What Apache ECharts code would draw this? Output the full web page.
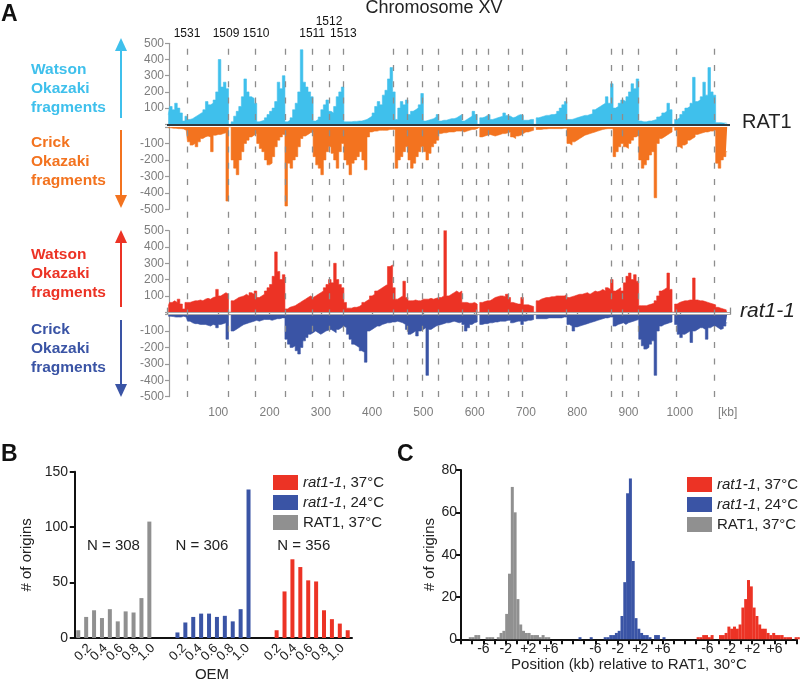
<!DOCTYPE html>
<html><head><meta charset="utf-8">
<script src="https://cdn.jsdelivr.net/npm/echarts@6/dist/echarts.min.js"></script>
<style>html,body{margin:0;padding:0;background:#fff}#c{width:800px;height:683px}</style>
</head><body><div id="c"></div>
<script>
// ---------- Panel A data: Okazaki fragment counts per 5 kb bin along Chromosome XV ----------
const BIN_KB = 5;
const CHROM_MAX_KB = 1098;
const watsonRAT1 = [
  60,110,90,130,100,70,20,50,30,35,45,55,65,75,90,140,120,130,150,200,
  400,230,260,220,0,15,50,80,110,170,280,200,170,160,130,15,20,25,40,60,
  80,100,140,260,220,300,15,25,40,90,130,200,460,260,230,200,170,20,30,45,
  90,120,150,80,70,110,170,200,230,15,15,15,18,18,20,20,25,30,40,50,
  70,110,140,120,180,210,280,350,200,30,100,140,120,150,60,80,90,100,120,190,
  20,25,30,35,45,60,20,25,25,30,35,35,40,50,60,20,30,40,50,80,
  60,0,40,45,55,60,30,35,40,45,50,70,55,50,40,45,55,60,55,25,
  25,30,30,0,40,45,50,55,55,60,60,65,80,100,120,140,30,30,35,40,
  45,50,55,55,60,65,90,100,110,120,130,170,130,250,100,110,130,150,140,170,
  200,250,220,280,20,15,15,20,20,25,30,45,55,70,80,130,90,0,30,40,
  60,80,100,110,130,290,140,150,170,260,180,350,200,180,10,10,8,8,5
];
const crickRAT1 = [
  -5,-5,-8,-8,-10,-10,-12,-20,-90,-110,-100,-120,-90,-70,-60,-55,-60,-150,-50,-45,
  -45,-40,-35,-450,0,-200,-250,-290,-200,-150,-100,-80,-60,-50,-40,-100,-130,-150,-200,-230,
  -220,-180,-120,-80,-60,-45,-480,-220,-250,-200,-180,-120,-70,-55,-45,-35,-30,-180,-230,-250,
  -290,-200,-150,-120,-160,-200,-250,-150,-100,-200,-230,-290,-220,-200,-180,-150,-200,-260,-60,-30,
  -25,-25,-20,-20,-20,-20,-15,-15,-15,-250,-200,-180,-150,-120,-200,-250,-220,-180,-150,-120,
  -150,-200,-160,-120,-100,-80,-40,-35,-35,-30,-30,-30,-25,-25,-25,-30,-25,-20,-15,-15,
  -10,0,-60,-55,-50,-45,-50,-55,-50,-45,-40,-40,-35,-30,-60,-70,-55,-50,-40,-30,
  -30,-25,-20,0,-15,-15,-12,-12,-10,-10,-10,-10,-10,-10,-8,-8,-100,-110,-90,-80,
  -70,-60,-50,-45,-40,-35,-30,-25,-20,-15,-12,-10,-10,-10,-180,-150,-120,-100,-120,-130,
  -100,-80,-60,-50,-200,-250,-230,-200,-170,-150,-430,-100,-70,-60,-50,-40,-30,0,-20,-120,
  -130,-110,-100,-80,-70,-60,-45,-40,-35,-30,-30,-25,-25,-20,-220,-250,-200,-180,-150
];
const watsonRat11 = [
  40,60,70,60,80,50,20,60,60,65,70,70,75,70,80,85,80,90,95,140,
  100,110,120,110,0,70,80,90,95,100,110,100,120,110,130,90,100,110,130,150,
  170,220,370,250,200,230,20,30,35,40,50,60,70,80,90,100,90,100,110,120,
  130,150,170,200,180,300,200,170,150,60,25,25,30,30,35,45,60,70,80,100,
  110,130,140,150,160,170,280,290,150,80,90,100,190,90,70,70,75,70,70,80,
  80,80,85,80,85,90,90,100,520,100,110,120,130,120,130,60,60,55,55,60,
  50,0,60,65,70,70,80,90,95,100,100,95,110,90,60,55,50,50,90,45,
  45,40,35,0,70,80,85,90,90,95,95,100,100,100,100,110,90,95,100,105,
  110,110,115,120,110,120,130,125,130,140,130,150,140,200,130,140,150,130,180,220,
  240,200,230,190,40,40,40,45,50,55,70,100,130,140,150,240,140,0,50,60,
  65,70,70,75,75,210,75,70,70,65,60,55,50,45,30,25,20,15,10
];
const crickRat11 = [
  -10,-10,-12,-15,-15,-15,-10,-15,-40,-50,-55,-55,-60,-60,-60,-65,-70,-60,-65,-80,
  -60,-55,-50,-150,0,-100,-90,-80,-70,-60,-55,-50,-45,-40,-35,-40,-35,-30,-30,-30,
  -35,-30,-25,-25,-20,-20,-150,-180,-200,-190,-220,-240,-200,-160,-140,-120,-110,-100,-110,-120,
  -110,-100,-95,-90,-100,-110,-90,-80,-70,-80,-120,-150,-180,-190,-200,-220,-230,-290,-100,-90,
  -80,-70,-70,-60,-55,-50,-50,-45,-45,-40,-45,-50,-60,-90,-120,-110,-100,-130,-100,-90,
  -80,-370,-90,-80,-70,-65,-60,-55,-50,-50,-45,-40,-45,-50,-45,-60,-100,-80,-60,-50,
  -45,0,-60,-55,-55,-50,-50,-45,-45,-40,-40,-40,-35,-35,-50,-45,-40,-40,-60,-40,
  -35,-35,-30,0,-25,-25,-25,-25,-20,-20,-20,-20,-20,-20,-15,-15,-60,-70,-100,-75,
  -70,-65,-60,-55,-50,-45,-40,-35,-30,-25,-20,-20,-15,-15,-70,-60,-55,-50,-60,-50,
  -45,-40,-35,-30,-150,-190,-210,-200,-180,-160,-370,-100,-70,-60,-55,-50,-45,0,-60,-120,
  -140,-120,-110,-100,-170,-100,-90,-80,-80,-90,-150,-80,-70,-70,-80,-90,-85,-70,-50
];
const originKb = [39,119,172,230,283,316,344,442,469,498,529,576,604,627,666,692,779,867,887,920,994,1068];
const originNames = {39:'1531',119:'1509',172:'1510',283:'1511',316:'1512',344:'1513'};
const kbTicks = [100,200,300,400,500,600,700,800,900,1000];

// ---------- Panel B data: OEM histograms ----------
const oemTickLabels = ['0.2','0.4','0.6','0.8','1.0'];
const oemRAT1_37 = [7,19,25,18,26,15,24,23,36,105];
const oemRat11_24 = [5,14,19,22,22,19,20,15,26,134];
const oemRat11_37 = [7,42,71,64,52,51,25,17,13,7];
const oemN = ['N = 308','N = 306','N = 356'];
const oemNPos = [[4.9, 83.5], [16.1, 83.5], [29.0, 83.5]];

// ---------- Panel C data: origin position shift, 0.5 kb bins from -10 to +10 kb ----------
const shiftBinKb = 0.5;
const shiftTickLabels = {'-6':'-6','-2':'-2','2':'+2','6':'+6'};
const shiftRAT1_37 = [0,0,0,0,1,1,2,2,0,0,1,1,1,0,1,3,4,12,31,72,60,19,7,4,3,3,2,2,2,1,2,1,1,0,0,0,0,0,0,0];
const shiftRat11_24 = [0,0,1,0,0,0,1,0,0,0,0,1,1,2,2,3,4,11,27,69,76,37,10,5,3,2,2,1,0,2,2,0,1,0,0,0,0,0,0,0];
const shiftRat11_37 = [0,0,0,1,1,2,2,1,2,0,0,2,2,3,6,5,6,5,7,15,19,28,25,15,11,7,5,5,3,2,3,2,2,2,1,1,1,0,1,1];

const seriesNames = ['rat1-1, 37°C','rat1-1, 24°C','RAT1, 37°C'];
const colRed = '#ec3325', colBlue = '#3a54a5', colGray = '#909090';
const colSky = '#3fc0ec', colOrange = '#f3731f';
const FONT = '"Liberation Sans", Arial, sans-serif';

const binned = arr => arr.map((v, i) => [i * BIN_KB + BIN_KB / 2, v]);

const chart = echarts.init(document.getElementById('c'), null, {renderer: 'canvas'});

const aLeft = 167, aWidth = 563;
const grids = [
  {left: aLeft, width: aWidth, top: 43.3, height: 81},     // 0 RAT1 Watson
  {left: aLeft, width: aWidth, top: 127, height: 82.3},    // 1 RAT1 Crick
  {left: aLeft, width: aWidth, top: 230.7, height: 81.5},  // 2 rat1-1 Watson
  {left: aLeft, width: aWidth, top: 314.6, height: 82.1},  // 3 rat1-1 Crick
  {left: aLeft, width: aWidth, top: 40, height: 357},      // 4 origin lines overlay
  {left: 72, width: 280, top: 471.7, height: 170},         // 5 panel B
  {left: 461, width: 336, top: 470, height: 169.3}         // 6 panel C
];

const hiddenKbAxis = gi => ({type: 'value', gridIndex: gi, min: 0, max: CHROM_MAX_KB, show: false});
const aYAxis = (gi, min, max) => ({
  type: 'value', gridIndex: gi, min: min, max: max, interval: 100, offset: -2,
  axisLine: {show: true, lineStyle: {color: '#9a9a9a', width: 1.2}},
  axisTick: {show: true, length: 4, lineStyle: {color: '#9a9a9a', width: 1.2}},
  axisLabel: {color: '#7d7d7d', fontSize: 12, fontFamily: FONT, margin: 5,
    formatter: v => v === 0 ? '' : String(v)},
  splitLine: {show: false}
});

const xAxes = [
  hiddenKbAxis(0), hiddenKbAxis(1), hiddenKbAxis(2),
  {type: 'value', gridIndex: 3, min: 0, max: CHROM_MAX_KB, interval: 100,
   axisLine: {show: true, lineStyle: {color: '#9a9a9a', width: 1.2}},
   axisTick: {show: true, inside: true, length: 7, lineStyle: {color: '#8a8a8a', width: 1.3}},
   axisLabel: {color: '#7d7d7d', fontSize: 12, fontFamily: FONT, margin: 10,
     formatter: v => kbTicks.indexOf(v) >= 0 ? String(v) : ''},
   splitLine: {show: false}},
  hiddenKbAxis(4),
  {type: 'value', gridIndex: 5, min: -0.35, max: 35.1,
   axisLine: {show: true, onZero: false, lineStyle: {color: '#111', width: 2}},
   axisTick: {show: false}, axisLabel: {show: false},
   splitLine: {show: false},
   name: 'OEM', nameLocation: 'middle', nameGap: 29,
   nameTextStyle: {color: '#222', fontSize: 15, fontFamily: FONT}},
  {type: 'value', gridIndex: 6, min: 0, max: 60, interval: 2,
   axisLine: {show: true, onZero: false, lineStyle: {color: '#111', width: 2}},
   axisTick: {show: true, length: 5, lineStyle: {color: '#111', width: 2}},
   axisLabel: {color: '#222', fontSize: 14, fontFamily: FONT, margin: 3,
     showMinLabel: true, showMaxLabel: true, hideOverlap: false,
     formatter: v => { const r = Math.round(v % 20 - 10); return shiftTickLabels[String(r)] || ''; }},
   splitLine: {show: false},
   name: 'Position (kb) relative to RAT1, 30°C', nameLocation: 'middle', nameGap: 16,
   nameTextStyle: {color: '#222', fontSize: 15, fontFamily: FONT}}
];

const yAxes = [
  aYAxis(0, 0, 500), aYAxis(1, -500, 0), aYAxis(2, 0, 500), aYAxis(3, -500, 0),
  {type: 'value', gridIndex: 4, min: 0, max: 1, show: false},
  {type: 'value', gridIndex: 5, min: 0, max: 150, interval: 50,
   axisLine: {show: true, lineStyle: {color: '#111', width: 2}},
   axisTick: {show: true, length: 5, lineStyle: {color: '#111', width: 2}},
   axisLabel: {color: '#222', fontSize: 14, fontFamily: FONT, margin: 4},
   splitLine: {show: false},
   name: '# of origins', nameLocation: 'middle', nameRotate: 90, nameGap: 38,
   nameTextStyle: {color: '#222', fontSize: 15, fontFamily: FONT}},
  {type: 'value', gridIndex: 6, min: 0, max: 80, interval: 20,
   axisLine: {show: true, lineStyle: {color: '#111', width: 2}},
   axisTick: {show: true, length: 5, lineStyle: {color: '#111', width: 2}},
   axisLabel: {color: '#222', fontSize: 14, fontFamily: FONT, margin: 4},
   splitLine: {show: false},
   name: '# of origins', nameLocation: 'middle', nameRotate: 90, nameGap: 23,
   nameTextStyle: {color: '#222', fontSize: 15, fontFamily: FONT}}
];

// dense coverage tracks drawn as stepped (histogram-like) filled profiles
const aTrack = (idx, data, color, base) => {
  const s = {type: 'line', step: 'middle', xAxisIndex: idx, yAxisIndex: idx, data: binned(data),
    symbol: 'none', showSymbol: false, silent: true, sampling: null,
    lineStyle: {color: color, width: 0.6}, areaStyle: {color: color, opacity: 1}};
  if (base) s.markLine = {silent: true, symbol: 'none', label: {show: false},
    lineStyle: {color: base.color, width: base.width, type: 'solid'}, data: [{yAxis: 0}]};
  return s;
};

const labelOffset = {119: [-2, 0], 172: [1, 0]};
const originLineData = originKb.map(kb => {
  const nm = originNames[kb];
  return {xAxis: kb, label: nm ? {show: true, position: 'end', formatter: nm, color: '#111',
    fontSize: 12, fontFamily: FONT, distance: kb === 316 ? 12 : 0, offset: labelOffset[kb] || [0, 0]} : {show: false}};
});

const bGroupStart = [1, 13, 25];
const bPairs = (arr, g) => arr.map((v, i) => [bGroupStart[g] + i, v]);
const cPairs = (arr, g) => arr.map((v, i) => [20 * g + i * shiftBinKb + shiftBinKb / 2, v]);

const series = [
  aTrack(0, watsonRAT1, colSky, {color: '#2f3b42', width: 2}),
  aTrack(1, crickRAT1, colOrange),
  aTrack(2, watsonRat11, colRed, {color: '#a8a8a8', width: 1.2}),
  aTrack(3, crickRat11, colBlue, {color: '#a8a8a8', width: 1.2}),
  {type: 'line', xAxisIndex: 4, yAxisIndex: 4, data: [], z: 5, silent: true,
   markLine: {silent: true, symbol: 'none', animation: false,
     lineStyle: {type: [6, 10.3], color: '#8d8d8d', width: 1.3}, data: originLineData}},
  // Panel B
  {name: seriesNames[2], type: 'bar', xAxisIndex: 5, yAxisIndex: 5, barWidth: 4, data: bPairs(oemRAT1_37, 0), itemStyle: {color: colGray}},
  {name: seriesNames[1], type: 'bar', xAxisIndex: 5, yAxisIndex: 5, barWidth: 4, data: bPairs(oemRat11_24, 1), itemStyle: {color: colBlue}},
  {name: seriesNames[0], type: 'bar', xAxisIndex: 5, yAxisIndex: 5, barWidth: 4, data: bPairs(oemRat11_37, 2), itemStyle: {color: colRed}},
  // Panel C
  {name: seriesNames[2], type: 'bar', xAxisIndex: 6, yAxisIndex: 6, barWidth: 3, data: cPairs(shiftRAT1_37, 0), itemStyle: {color: colGray}},
  {name: seriesNames[1], type: 'bar', xAxisIndex: 6, yAxisIndex: 6, barWidth: 3, data: cPairs(shiftRat11_24, 1), itemStyle: {color: colBlue}},
  {name: seriesNames[0], type: 'bar', xAxisIndex: 6, yAxisIndex: 6, barWidth: 3, data: cPairs(shiftRat11_37, 2), itemStyle: {color: colRed}}
];

const legendFmt = name => name.indexOf('rat1-1') === 0 ? '{i|rat1-1}' + name.slice(6) : name;
const legendBase = (left, top) => ({
  left: left, top: top, orient: 'vertical', itemWidth: 25, itemHeight: 15, itemGap: 5,
  icon: 'rect', data: seriesNames, selectedMode: false, formatter: legendFmt,
  textStyle: {color: '#222', fontSize: 15, fontFamily: FONT,
    rich: {i: {fontStyle: 'italic', fontSize: 15, fontFamily: FONT, color: '#222'}}}
});

const txt = (x, y, text, font, fill, extra) => Object.assign({type: 'text', x: x, y: y, silent: true,
  style: Object.assign({text: text, font: font, fill: fill}, extra || {})});
const arrow = (x, y1, y2, color) => {
  const up = y2 < y1, h = 13, w = 6;
  const baseY = up ? y2 + h : y2 - h;
  return [
    {type: 'line', silent: true, shape: {x1: x, y1: y1, x2: x, y2: baseY}, style: {stroke: color, lineWidth: 2}},
    {type: 'polygon', silent: true, shape: {points: [[x - w, baseY], [x + w, baseY], [x, y2]]}, style: {fill: color}}
  ];
};

const bold = 'bold 15.5px ' + FONT;
const graphic = [
  txt(1, 3, 'A', 'bold 23px ' + FONT, '#111'),
  txt(1, 443, 'B', 'bold 23px ' + FONT, '#111'),
  txt(397, 443, 'C', 'bold 23px ' + FONT, '#111'),
  txt(434, 8, 'Chromosome XV', '18px ' + FONT, '#222', {align: 'center', verticalAlign: 'middle'}),
  txt(31, 60, 'Watson\nOkazaki\nfragments', bold, colSky, {lineHeight: 19}),
  txt(31, 133, 'Crick\nOkazaki\nfragments', bold, colOrange, {lineHeight: 19}),
  txt(31, 245, 'Watson\nOkazaki\nfragments', bold, colRed, {lineHeight: 19}),
  txt(31, 320, 'Crick\nOkazaki\nfragments', bold, colBlue, {lineHeight: 19}),
  txt(742, 122, 'RAT1', '20px ' + FONT, '#222', {verticalAlign: 'middle'}),
  txt(740, 311, 'rat1-1', 'italic 21px ' + FONT, '#222', {verticalAlign: 'middle'}),
  txt(718, 413, '[kb]', '12px ' + FONT, '#7d7d7d', {verticalAlign: 'middle'}),
  ...arrow(121, 118, 38, colSky),
  ...arrow(121, 130, 208, colOrange),
  ...arrow(121, 307, 230, colRed),
  ...arrow(121, 320, 397, colBlue)
];

chart.setOption({
  animation: false,
  backgroundColor: '#fff',
  textStyle: {fontFamily: FONT},
  grid: grids,
  xAxis: xAxes,
  yAxis: yAxes,
  legend: [legendBase(268, 470), legendBase(682, 472)],
  series: series,
  graphic: graphic
});

// Panel B: N labels and rotated OEM tick labels placed through the chart's own scale
const extra = [];
oemN.forEach((t, g) => {
  const p = chart.convertToPixel({xAxisIndex: 5, yAxisIndex: 5}, oemNPos[g]);
  extra.push(txt(p[0], p[1], t, '15px ' + FONT, '#222', {align: 'center', verticalAlign: 'middle'}));
});
bGroupStart.forEach(start => {
  oemTickLabels.forEach((lab, k) => {
    const p = chart.convertToPixel({xAxisIndex: 5, yAxisIndex: 5}, [start + 1 + 2 * k, 0]);
    extra.push(Object.assign(txt(p[0] - 1, p[1] + 8, lab, '13px ' + FONT, '#222',
      {align: 'right', verticalAlign: 'middle'}), {rotation: Math.PI / 4}));
  });
});
chart.setOption({graphic: graphic.concat(extra)});
</script>
</body></html>
